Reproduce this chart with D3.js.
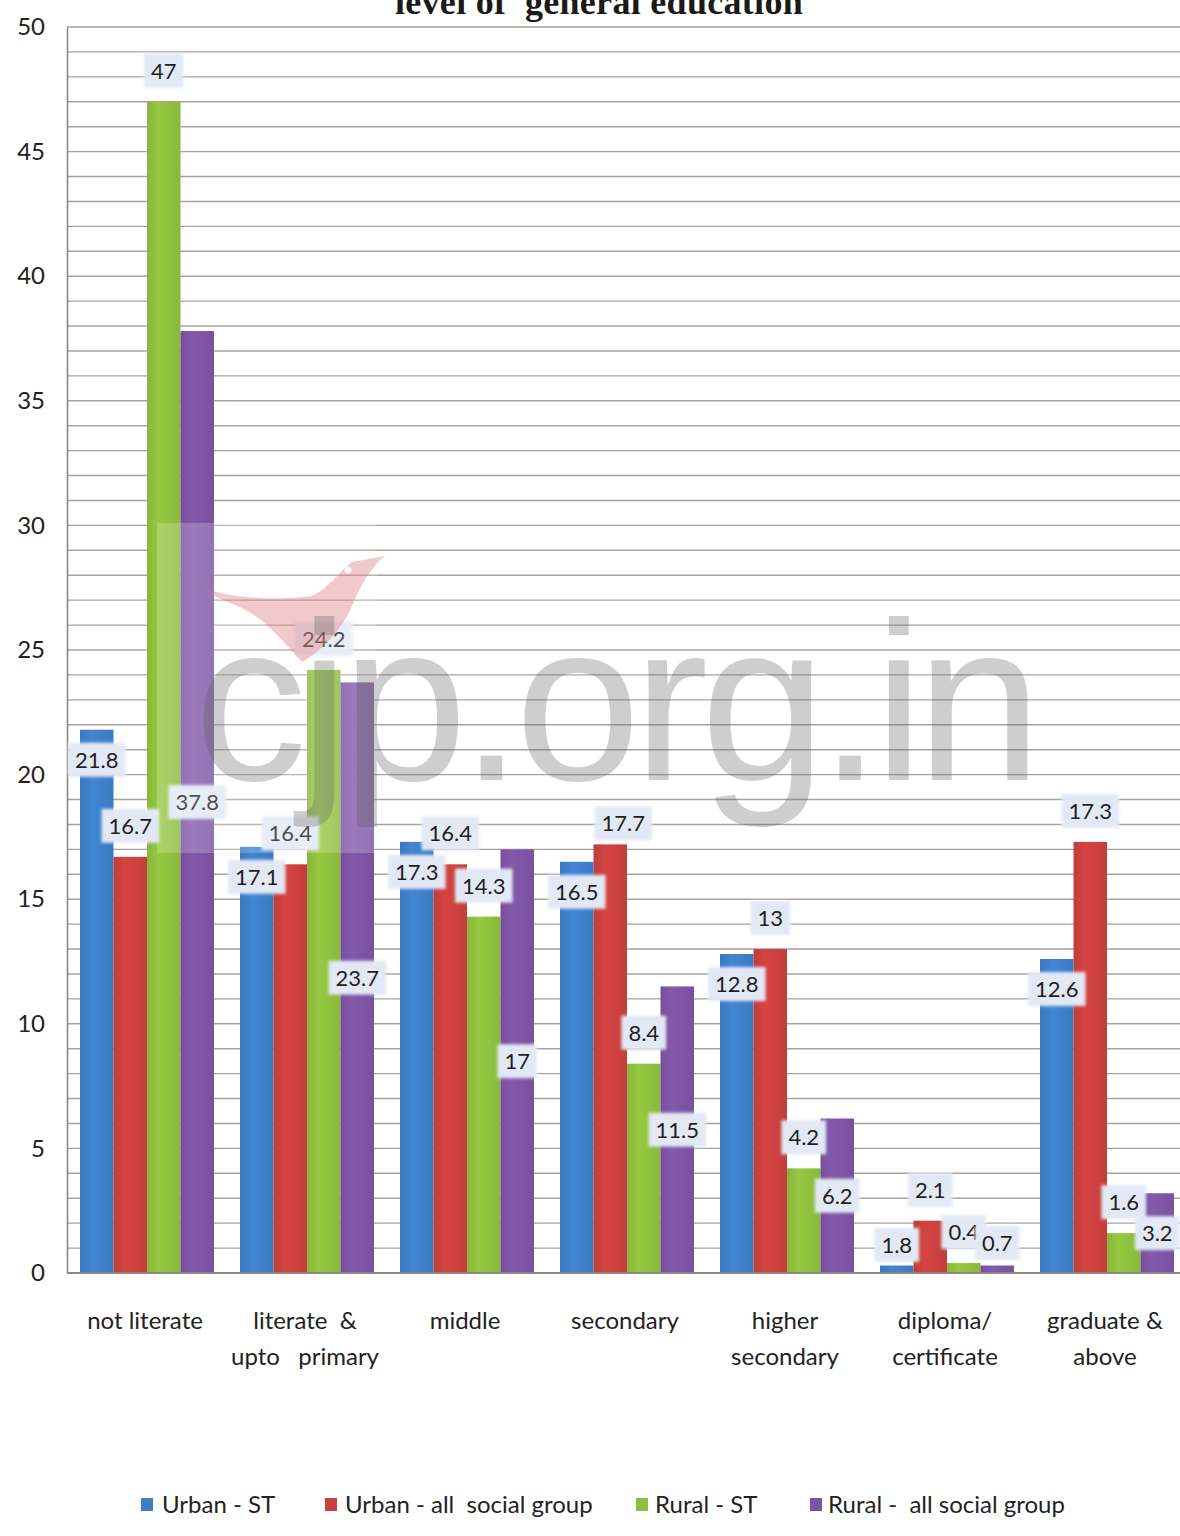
<!DOCTYPE html>
<html><head><meta charset="utf-8">
<script src="https://cdn.jsdelivr.net/npm/d3@7"></script>
<style>body{margin:0;background:#fff}svg{display:block}</style>
</head><body>
<svg id="chart" width="1180" height="1536"></svg>
<script>
// ---- data ----
const categories = ["not literate", "literate  &\nupto   primary", "middle", "secondary", "higher\nsecondary", "diploma/\ncertificate", "graduate &\nabove"];
const seriesNames = ["Urban - ST", "Urban - all  social group", "Rural - ST", "Rural -  all social group"];
const urbanST   = [21.8, 17.1, 17.3, 16.5, 12.8, 0.3, 12.6];
const urbanAll  = [16.7, 16.4, 16.4, 17.2, 13.0, 2.1, 17.3];
const ruralST   = [47.0, 24.2, 14.3, 8.4, 4.2, 0.4, 1.6];
const ruralAll  = [37.8, 23.7, 17.0, 11.5, 6.2, 0.3, 3.2];
const urbanSTLabels  = ["21.8", "17.1", "17.3", "16.5", "12.8", "1.8", "12.6"];
const urbanAllLabels = ["16.7", "16.4", "16.4", "17.7", "13", "2.1", "17.3"];
const ruralSTLabels  = ["47", "24.2", "14.3", "8.4", "4.2", "0.4", "1.6"];
const ruralAllLabels = ["37.8", "23.7", "17", "11.5", "6.2", "0.7", "3.2"];
const yTicks = [0, 5, 10, 15, 20, 25, 30, 35, 40, 45, 50];
const titleText = "level of  general education";
const watermarkText = "cjp.org.in";

// ---- setup ----
const seriesValues = [urbanST, urbanAll, ruralST, ruralAll];
const seriesLabels = [urbanSTLabels, urbanAllLabels, ruralSTLabels, ruralAllLabels];
const seriesColors = ["#3d7ec9", "#c9403e", "#8ebf3e", "#7c54a4"];
const labelMode = ["insideEnd", "outsideEnd", "outsideEnd", "center"];
// manual nudges of individual labels (series index - category index): [dx, dy]
const labelNudge = {"1-3": [13, 10]};
const FONT = "Lato, 'Open Sans', sans-serif";

const svg = d3.select("#chart");
const plotLeft = 67, plotTop = 27, plotBottom = 1273;
const x0 = d3.scaleBand().domain(categories).range([plotLeft, plotLeft + 160 * categories.length]).paddingInner(0.1625).paddingOuter(0.08125);
const x1 = d3.scaleBand().domain(seriesNames).range([0, x0.bandwidth()]);
const y = d3.scaleLinear().domain([0, 50]).range([plotBottom, plotTop]);

// gradients
const defs = svg.append("defs");
seriesColors.forEach((c, i) => {
  const g = defs.append("linearGradient").attr("id", "g" + i).attr("x1", "0").attr("x2", "1").attr("y1", "0").attr("y2", "0");
  const base = d3.color(c);
  g.append("stop").attr("offset", "0%").attr("stop-color", base.darker(0.15));
  g.append("stop").attr("offset", "35%").attr("stop-color", base.brighter(0.15));
  g.append("stop").attr("offset", "100%").attr("stop-color", base.darker(0.1));
});
const blur = defs.append("filter").attr("id", "soft").attr("x", "-20%").attr("y", "-20%").attr("width", "140%").attr("height", "140%");
blur.append("feGaussianBlur").attr("stdDeviation", 1.6);

// title (cut off by the top edge, as in the original)
svg.append("text").attr("x", 599).attr("y", 14).attr("text-anchor", "middle")
  .attr("font-family", "'Liberation Serif', 'DejaVu Serif', serif").attr("font-size", 36).attr("font-weight", "bold")
  .attr("letter-spacing", 0.3)
  .attr("fill", "#1a1a1a").style("white-space", "pre").text(titleText);

// gridlines
svg.append("g").selectAll("line").data(d3.range(1, 51)).join("line")
  .attr("x1", plotLeft).attr("x2", 1180)
  .attr("y1", d => y(d)).attr("y2", d => y(d))
  .attr("stroke", "#aaa19c").attr("stroke-width", 1.4);

// y axis
const yAxis = svg.append("g").attr("transform", `translate(${plotLeft},0)`)
  .call(d3.axisLeft(y).tickValues(yTicks).tickSize(0).tickPadding(22));
yAxis.select(".domain").attr("stroke", "#8c8580").attr("stroke-width", 1.6);
yAxis.selectAll("text").attr("font-family", FONT).attr("font-size", 24).attr("fill", "#222");

// bars
const groups = svg.append("g").selectAll("g").data(categories).join("g")
  .attr("transform", d => `translate(${x0(d)},0)`);
groups.selectAll("rect").data((c, ci) => seriesNames.map((s, si) => ({s, si, v: seriesValues[si][ci]}))).join("rect")
  .attr("x", d => x1(d.s)).attr("width", x1.bandwidth())
  .attr("y", d => y(d.v)).attr("height", d => y(0) - y(d.v))
  .attr("fill", d => `url(#g${d.si})`);

// x axis
svg.append("line").attr("x1", plotLeft).attr("x2", 1180).attr("y1", plotBottom).attr("y2", plotBottom)
  .attr("stroke", "#8c8580").attr("stroke-width", 2);
svg.append("g").selectAll("text").data(categories).join("text")
  .attr("x", d => x0(d) + x0.bandwidth() / 2 - 2).attr("y", 1329)
  .attr("text-anchor", "middle").attr("font-family", FONT).attr("font-size", 24).attr("fill", "#222")
  .style("white-space", "pre")
  .each(function(d) {
    d.split("\n").forEach((line, i) => {
      d3.select(this).append("tspan").attr("x", x0(d) + x0.bandwidth() / 2 - 2).attr("dy", i === 0 ? 0 : 36).text(line);
    });
  });

// data labels
const labelLayer = svg.append("g");
seriesNames.forEach((s, si) => {
  categories.forEach((c, ci) => {
    const v = seriesValues[si][ci];
    let cx = x0(c) + x1(s) + x1.bandwidth() / 2;
    let cy;
    if (labelMode[si] === "insideEnd") cy = Math.min(y(v) + 30, plotBottom - 28);
    else if (labelMode[si] === "outsideEnd") cy = y(v) - 31;
    else cy = Math.min(y(v / 2), plotBottom - 30);
    const n = labelNudge[si + "-" + ci];
    if (n) { cx += n[0]; cy += n[1]; }
    const g = labelLayer.append("g");
    const box = g.append("rect");
    const t = g.append("text").attr("x", cx).attr("y", cy + 8).attr("text-anchor", "middle")
      .attr("font-family", FONT).attr("font-size", 22).attr("fill", "#1e1e1e").text(seriesLabels[si][ci]);
    const w = t.node().getComputedTextLength() + 14;
    box.attr("x", cx - w / 2).attr("y", cy - 17).attr("width", w).attr("height", 34)
      .attr("fill", "#e2e9f5").attr("filter", "url(#soft)");
  });
});

// legend
const legendX = [141, 325, 636, 810];
const legendTextDx = [21, 20, 19, 18];
const lg = svg.append("g").selectAll("g").data(seriesNames).join("g")
  .attr("transform", (d, i) => `translate(${legendX[i]},1498)`);
lg.append("rect").attr("width", 12).attr("height", 13).attr("fill", (d, i) => seriesColors[i]);
lg.append("text").attr("x", (d, i) => legendTextDx[i]).attr("y", 15)
  .attr("font-family", FONT).attr("font-size", 24).attr("fill", "#222").style("white-space", "pre").text(d => d);

// watermark
const wm = svg.append("g").attr("pointer-events", "none");
wm.append("rect").attr("x", 157).attr("y", 523).attr("width", 220).attr("height", 330).attr("fill", "#fff").attr("opacity", 0.2);
wm.append("path")
  .attr("d", "M202,588 C232,598 272,601 312,596 C330,588 340,570 352,562 L385,556 C372,566 362,582 352,606 C342,630 320,652 302,662 C290,650 270,622 242,608 C226,601 212,596 202,588 Z")
  .attr("fill", "#d9707a").attr("opacity", 0.38);
wm.append("circle").attr("cx", 348).attr("cy", 570).attr("r", 3.5).attr("fill", "#fff").attr("opacity", 0.8);
wm.append("text").attr("x", 194).attr("y", 780).attr("textLength", 848).attr("lengthAdjust", "spacing")
  .attr("font-family", "'Liberation Sans', Arial, sans-serif").attr("font-size", 226)
  .attr("fill", "#606060").attr("opacity", 0.3).text(watermarkText);
</script>
</body></html>
